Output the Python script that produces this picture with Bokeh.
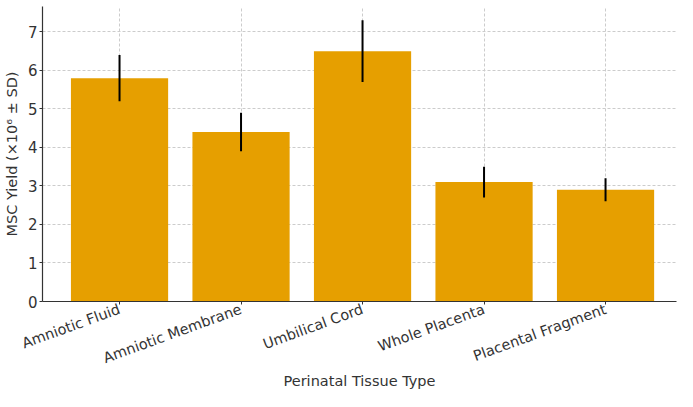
import math
from bokeh.plotting import figure
from bokeh.models import Range1d, FixedTicker, ColumnDataSource
from bokeh.embed import file_html
from bokeh.resources import INLINE

tissues = ["Amniotic Fluid", "Amniotic Membrane", "Umbilical Cord", "Whole Placenta", "Placental Fragment"]
yields = [5.8, 4.4, 6.5, 3.1, 2.9]
sds = [0.6, 0.5, 0.8, 0.4, 0.3]
y_ticks = [0, 1, 2, 3, 4, 5, 6, 7]

xs = list(range(len(tissues)))
src = ColumnDataSource(dict(
    x=xs, top=yields,
    lo=[v - s for v, s in zip(yields, sds)],
    hi=[v + s for v, s in zip(yields, sds)],
))

FONT = "DejaVu Sans"
p = figure(width=677, height=391, output_backend="svg", toolbar_location=None,
           x_range=Range1d(-0.634, 4.584), y_range=Range1d(0, 7.66),
           min_border_left=10, min_border_right=1, min_border_top=6, min_border_bottom=0)
p.outline_line_color = None
p.background_fill_color = "white"
p.border_fill_color = "white"

p.vbar(x="x", top="top", width=0.8, bottom=0, source=src, fill_color="#E69F00", line_color=None)
p.segment(x0="x", x1="x", y0="lo", y1="hi", source=src, line_color="black", line_width=2)

p.xaxis.ticker = FixedTicker(ticks=xs)
p.xaxis.major_label_overrides = {i: t for i, t in enumerate(tissues)}
p.xaxis.major_label_orientation = math.radians(20)
p.yaxis.ticker = FixedTicker(ticks=y_ticks)

for ax in (p.xaxis[0], p.yaxis[0]):
    ax.axis_line_color = "#333333"
    ax.axis_line_width = 1.2
    ax.major_tick_line_color = "#333333"
    ax.major_tick_in = 0
    ax.major_tick_out = 3
    ax.minor_tick_line_color = None
    ax.major_label_text_font = FONT
    ax.major_label_text_font_size = "14.5px"
    ax.major_label_text_color = "#333333"
    ax.axis_label_text_font = FONT
    ax.axis_label_text_font_size = "14.5px"
    ax.axis_label_text_font_style = "normal"
    ax.axis_label_text_color = "#333333"

p.xaxis.axis_label = "Perinatal Tissue Type"
p.yaxis.axis_label = "MSC Yield (×10⁶ ± SD)"
p.yaxis.major_label_text_font_size = "15px"
p.xaxis.major_label_standoff = 4
p.yaxis.major_label_standoff = 2
p.yaxis.axis_label_standoff = 5
p.xaxis.axis_label_standoff = -4

for g in (p.xgrid[0], p.ygrid[0]):
    g.grid_line_color = "#cccccc"
    g.grid_line_dash = "3 2"
    g.grid_line_width = 1
p.xgrid.ticker = FixedTicker(ticks=xs)

open("out.html", "w").write(file_html(p, INLINE))
